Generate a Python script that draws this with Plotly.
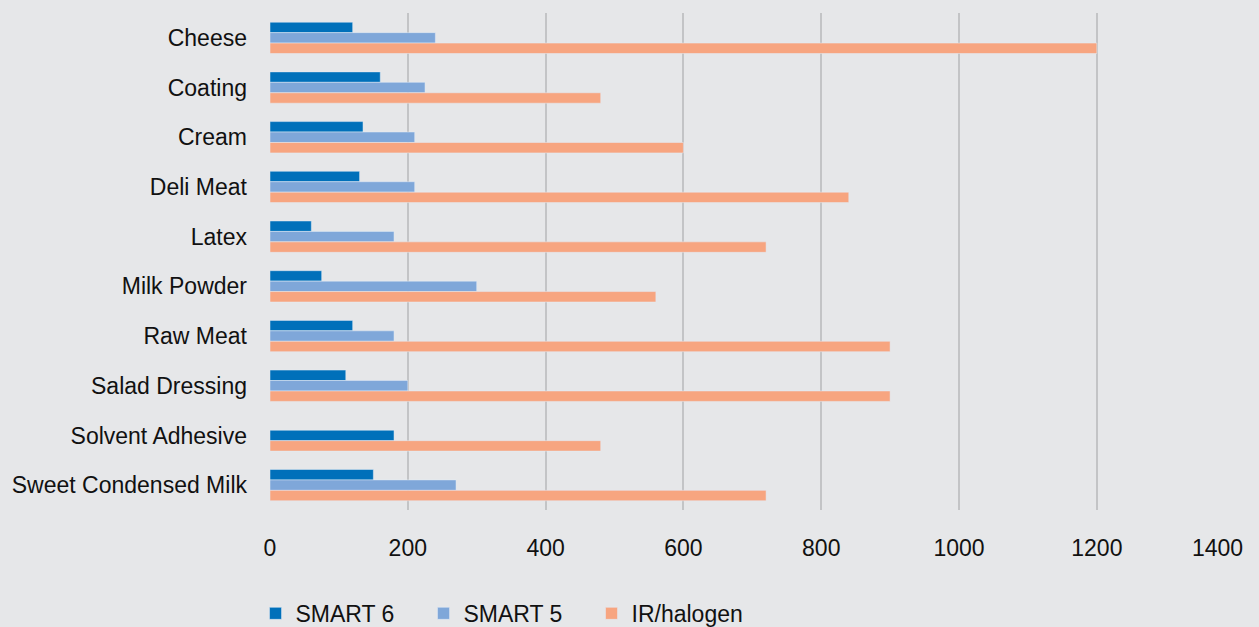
import plotly.graph_objects as go

categories = ["Cheese", "Coating", "Cream", "Deli Meat", "Latex", "Milk Powder",
              "Raw Meat", "Salad Dressing", "Solvent Adhesive", "Sweet Condensed Milk"]
smart6 = [120, 160, 135, 130, 60, 75, 120, 110, 180, 150]
smart5 = [240, 225, 210, 210, 180, 300, 180, 200, None, 270]
ir_halogen = [1200, 480, 600, 840, 720, 560, 900, 900, 480, 720]
x_ticks = [0, 200, 400, 600, 800, 1000, 1200, 1400]
x_tick_labels = ["0", "200", "400", "600", "800", "1000", "1200", "1400"]

W = 0.21
# per-bar offsets (style): Solvent Adhesive's SMART 6 bar sits in the middle slot
off6 = [-1.5 * W if c != "Solvent Adhesive" else -0.5 * W for c in categories]
off5 = [-0.5 * W] * len(categories)
offir = [0.5 * W] * len(categories)

font = "Liberation Sans, Arial, sans-serif"
fig = go.Figure()
fig.add_trace(go.Bar(y=categories, x=smart6, orientation="h", name="SMART 6",
                     marker_color="#0070BA", width=W, offset=off6))
fig.add_trace(go.Bar(y=categories, x=smart5, orientation="h", name="SMART 5",
                     marker_color="#7FA7D9", width=W, offset=off5))
fig.add_trace(go.Bar(y=categories, x=ir_halogen, orientation="h", name="IR/halogen",
                     marker_color="#F7A580", width=W, offset=offir))

# last tick label drawn as annotation so it stays inside the page (as in the reference)
shown_labels = x_tick_labels[:-1] + [""]
fig.add_annotation(x=x_ticks[-1], xref="x", yref="paper", y=0, yshift=-38,
                   text=x_tick_labels[-1], showarrow=False, xanchor="right",
                   yanchor="middle", xshift=10, font=dict(size=23))

fig.update_layout(
    width=1259, height=627,
    barmode="overlay",
    paper_bgcolor="#E6E7E9", plot_bgcolor="#E6E7E9",
    margin=dict(l=270, r=24, t=13, b=117, autoexpand=False),
    font=dict(family=font, size=23, color="#111111"),
    xaxis=dict(range=[0, 1400.5], tickvals=x_ticks, ticktext=shown_labels,
               showgrid=True, gridcolor="#C3C4C6",
               gridwidth=2, zeroline=False, showline=False, ticks="",
               tickfont=dict(size=23), ticklabelstandoff=22, automargin=False),
    yaxis=dict(categoryorder="array", categoryarray=categories, autorange="reversed",
               showgrid=False, ticks="", ticklabelstandoff=22, showline=False,
               automargin=False),
    showlegend=True,
    legend=dict(orientation="h", x=-0.015, xanchor="left", yref="container",
                y=0.056, yanchor="top",
                entrywidth=123, entrywidthmode="pixels", font=dict(size=23),
                bgcolor="rgba(0,0,0,0)", traceorder="normal"),
)
fig.write_html("out.html", config={"displayModeBar": False},
               post_script="document.body.style.margin='0';document.body.style.background='#E6E7E9';")
